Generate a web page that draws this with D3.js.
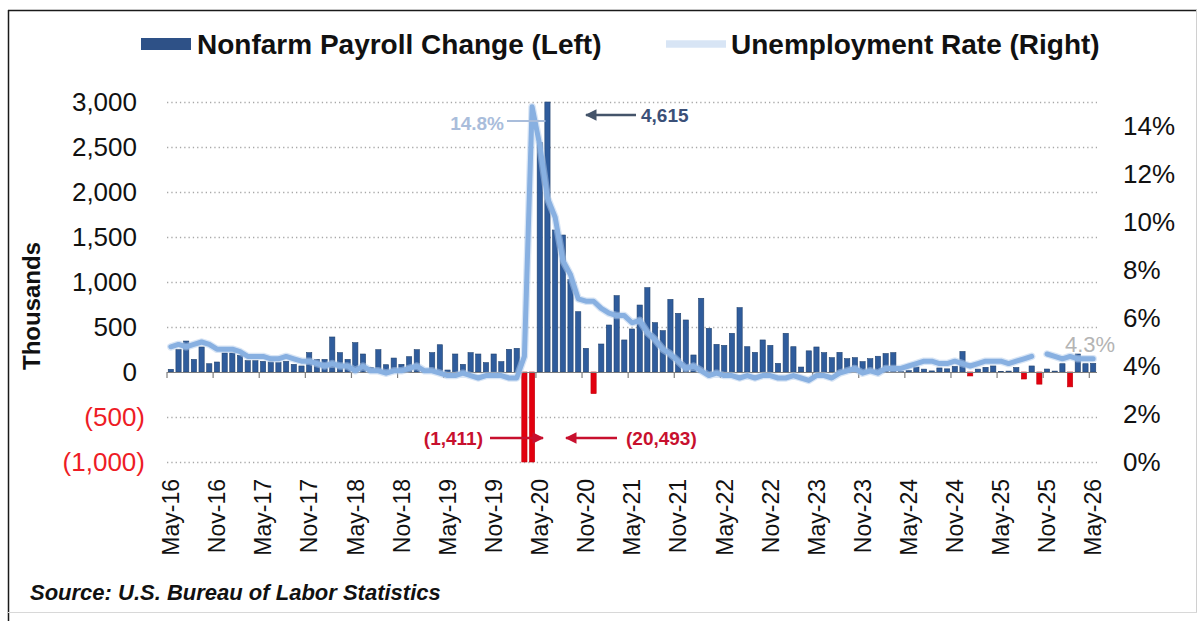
<!DOCTYPE html>
<html>
<head>
<meta charset="utf-8">
<script src="https://cdn.jsdelivr.net/npm/d3@7"></script>
<style>
  body { margin: 0; background: #fff; }
  svg { display: block; }
  text { font-family: "Liberation Sans", Arial, Helvetica, sans-serif; }
</style>
</head>
<body>
<svg id="chart" width="1201" height="621"></svg>
<script>
// Monthly nonfarm payroll change (thousands), May-16 .. May-26
const payrolls = [
  30, 248, 344, 140, 278, 92, 111, 211,
  211, 185, 126, 126, 118, 111, 104, 118, 85, 67, 215, 140,
  140, 389, 215, 140, 326, 200, 52, 248, 81, 155, 85, 170,
  248, 10, 215, 303, 22, 200, 85, 215, 200, 104, 200, 115,
  252, 263, -1411, -20493, 2550, 4615, 1578, 1522, 1030, 670, 263, -240,
  311, 522, 848, 356, 478, 744, 937, 548, 459, 807, 652, 578,
  189, 819, 485, 307, 296, 430, 715, 281, 218, 356, 296, 96,
  430, 281, 55, 235, 278, 215, 159, 218, 148, 159, 115, 148,
  175, 205, 215, 10, 15, 55, 32, 12, 45, 35, 62, 228,
  -44, 32, 52, 67, 5, 10, 50, -78, 67, -135, 33, 10,
  92, -165, 200, 92, 96
];

// Unemployment rate (%), same months; October 2025 not published
const unemployment = [
  4.8, 4.9, 4.8, 4.9, 5.0, 4.9, 4.7, 4.7,
  4.7, 4.6, 4.4, 4.4, 4.4, 4.3, 4.3, 4.4, 4.3, 4.2, 4.2, 4.1,
  4.0, 4.1, 4.0, 4.0, 3.8, 4.0, 3.8, 3.8, 3.7, 3.8, 3.8, 3.9,
  4.0, 3.8, 3.8, 3.7, 3.6, 3.6, 3.7, 3.6, 3.5, 3.6, 3.6, 3.6,
  3.5, 3.5, 4.4, 14.8, 13.2, 11.0, 10.2, 8.4, 7.8, 6.8, 6.7, 6.7,
  6.4, 6.2, 6.1, 6.1, 5.8, 5.9, 5.4, 5.1, 4.7, 4.5, 4.2, 3.9,
  4.0, 3.8, 3.6, 3.7, 3.6, 3.6, 3.5, 3.6, 3.5, 3.6, 3.6, 3.5,
  3.5, 3.6, 3.5, 3.4, 3.6, 3.6, 3.5, 3.7, 3.8, 3.9, 3.7, 3.8,
  3.7, 3.9, 3.9, 3.9, 4.0, 4.1, 4.2, 4.2, 4.1, 4.1, 4.2, 4.1,
  4.0, 4.1, 4.2, 4.2, 4.2, 4.1, 4.2, 4.3, 4.4, null, 4.5, 4.4,
  4.3, 4.4, 4.3, 4.3, 4.3
];

const monthNames = ["Jan","Feb","Mar","Apr","May","Jun","Jul","Aug","Sep","Oct","Nov","Dec"];
const categories = payrolls.map((_, i) => {
  const m = 4 + i;
  return monthNames[m % 12] + "-" + (16 + Math.floor(m / 12));
});

const tickLabels = ["May-16","Nov-16","May-17","Nov-17","May-18","Nov-18","May-19",
  "Nov-19","May-20","Nov-20","May-21","Nov-21","May-22","Nov-22","May-23","Nov-23",
  "May-24","Nov-24","May-25","Nov-25","May-26"];
const leftTicks = [-1000, -500, 0, 500, 1000, 1500, 2000, 2500, 3000];
const rightTicks = [0, 2, 4, 6, 8, 10, 12, 14];

const svg = d3.select("#chart");
const plotL = 167, plotR = 1097, plotT = 102, plotB = 462;

const x = d3.scaleBand().domain(categories).range([plotL, plotR])
  .paddingInner(0.32).paddingOuter(0.16);
const yL = d3.scaleLinear().domain([-1000, 3000]).range([plotB, plotT]).clamp(true);
const yR = d3.scaleLinear().domain([0, 15]).range([plotB, plotT]);
const cx = c => x(c) + x.bandwidth() / 2;

// frame
svg.append("rect").attr("x", 0).attr("y", 0).attr("width", 1201).attr("height", 621).attr("fill", "#fff");
svg.append("line").attr("x1", 8.5).attr("x2", 8.5).attr("y1", 10).attr("y2", 621).attr("stroke", "#1a1a1a").attr("stroke-width", 1.5);
svg.append("line").attr("x1", 8).attr("x2", 1197).attr("y1", 10.5).attr("y2", 10.5).attr("stroke", "#1a1a1a").attr("stroke-width", 1.5);
svg.append("line").attr("x1", 1196.5).attr("x2", 1196.5).attr("y1", 10).attr("y2", 612).attr("stroke", "#d0d0d0");
svg.append("line").attr("x1", 8).attr("x2", 1197).attr("y1", 612.5).attr("y2", 612.5).attr("stroke", "#d8d8d8");

// soft edge for the rate line
const defs = svg.append("defs");
defs.append("filter").attr("id", "soft").attr("x", "-5%").attr("y", "-5%").attr("width", "110%").attr("height", "110%")
  .append("feGaussianBlur").attr("stdDeviation", 0.5);

// dotted gridlines
svg.append("g").selectAll("line").data(leftTicks.filter(t => t !== 0)).join("line")
  .attr("x1", plotL).attr("x2", plotR)
  .attr("y1", d => yL(d) + 0.5).attr("y2", d => yL(d) + 0.5)
  .attr("stroke", "#a8a8a8").attr("stroke-width", 1.3).attr("stroke-dasharray", "1.3,3");

// bars
svg.append("g").selectAll("rect").data(payrolls).join("rect")
  .attr("x", (d, i) => x(categories[i]))
  .attr("width", x.bandwidth())
  .attr("y", d => Math.min(yL(d), yL(0)))
  .attr("height", d => Math.abs(yL(d) - yL(0)))
  .attr("fill", d => d < 0 ? "#e2000f" : "#2f5c9c")
  .attr("stroke", d => d < 0 ? "#c0000c" : "#22436f")
  .attr("stroke-width", 0.6);

// zero axis with tick marks every six months
const y0 = yL(0);
svg.append("line").attr("x1", plotL).attr("x2", plotR).attr("y1", y0 + 0.5).attr("y2", y0 + 0.5)
  .attr("stroke", "#7f7f7f").attr("stroke-width", 1.2);
const tickIdx = d3.range(0, categories.length, 6);
svg.append("g").selectAll("line").data(tickIdx).join("line")
  .attr("x1", i => plotL + i * x.step()).attr("x2", i => plotL + i * x.step())
  .attr("y1", y0).attr("y2", y0 + 6)
  .attr("stroke", "#7f7f7f").attr("stroke-width", 1.2);

// unemployment rate line
const line = d3.line().defined(d => d != null)
  .x((d, i) => cx(categories[i])).y(d => yR(d)).curve(d3.curveLinear);
svg.append("path").datum(unemployment).attr("d", line)
  .attr("fill", "none").attr("stroke", "#b3ccec").attr("stroke-width", 7.5)
  .attr("stroke-linejoin", "round").attr("stroke-linecap", "round").attr("opacity", 0.5)
  .attr("filter", "url(#soft)");
svg.append("path").datum(unemployment).attr("d", line)
  .attr("fill", "none").attr("stroke", "#88b0e1").attr("stroke-width", 5)
  .attr("stroke-linejoin", "round").attr("stroke-linecap", "round")
  .attr("filter", "url(#soft)");

// left axis labels
const fmt = d3.format(",");
svg.append("g").selectAll("text").data(leftTicks).join("text")
  .attr("x", d => d < 0 ? 145 : 137)
  .attr("y", d => yL(d)).attr("dy", "0.36em")
  .attr("text-anchor", "end").attr("font-size", 26)
  .attr("fill", d => d < 0 ? "#ee1c25" : "#111")
  .text(d => d < 0 ? "(" + fmt(-d) + ")" : fmt(d));

// right axis labels
svg.append("g").selectAll("text").data(rightTicks).join("text")
  .attr("x", 1123).attr("y", d => yR(d)).attr("dy", "0.36em")
  .attr("font-size", 26).attr("fill", "#111")
  .text(d => d + "%");

// axis title
svg.append("text").attr("transform", "translate(40,306) rotate(-90)")
  .attr("text-anchor", "middle").attr("font-size", 24).attr("font-weight", "bold")
  .attr("fill", "#111").text("Thousands");

// category labels
svg.append("g").selectAll("text").data(tickLabels).join("text")
  .attr("transform", (d, k) => `translate(${cx(categories[k * 6])},479) rotate(-90)`)
  .attr("dy", "0.36em").attr("text-anchor", "end")
  .attr("font-size", 23).attr("fill", "#111").text(d => d);

// legend
const lg = svg.append("g");
lg.append("rect").attr("x", 141).attr("y", 38).attr("width", 50).attr("height", 12).attr("fill", "#2e5187");
lg.append("text").attr("x", 197).attr("y", 54).attr("font-size", 28).attr("font-weight", "bold")
  .attr("fill", "#111").text("Nonfarm Payroll Change (Left)");
lg.append("line").attr("x1", 666).attr("x2", 726).attr("y1", 44).attr("y2", 44)
  .attr("stroke", "#b3ccec").attr("stroke-width", 7.5).attr("opacity", 0.5);
lg.append("line").attr("x1", 666).attr("x2", 726).attr("y1", 44).attr("y2", 44)
  .attr("stroke", "#88b0e1").attr("stroke-width", 5).attr("filter", "url(#soft)");
lg.append("text").attr("x", 731).attr("y", 54).attr("font-size", 28).attr("font-weight", "bold")
  .attr("fill", "#111").text("Unemployment Rate (Right)");

// arrowhead markers
function marker(id, color) {
  defs.append("marker").attr("id", id).attr("viewBox", "0 0 10 10")
    .attr("refX", 9).attr("refY", 5).attr("markerWidth", 4.5).attr("markerHeight", 4.5)
    .attr("orient", "auto-start-reverse").attr("markerUnits", "strokeWidth")
    .append("path").attr("d", "M0,0 L10,5 L0,10 Z").attr("fill", color);
}
marker("arrBlue", "#44546a");
marker("arrRed", "#c8102e");

// annotations
const iPeakRate = unemployment.indexOf(d3.max(unemployment));
const iPeakJobs = payrolls.indexOf(d3.max(payrolls));
const iTrough = payrolls.indexOf(d3.min(payrolls));
const iMar = iTrough - 1;

svg.append("line").attr("x1", 507).attr("x2", cx(categories[iPeakJobs]) - 2)
  .attr("y1", 121).attr("y2", 121).attr("stroke", "#a9bddb").attr("stroke-width", 2);
svg.append("text").attr("x", 504).attr("y", 123).attr("dy", "0.35em").attr("text-anchor", "end")
  .attr("font-size", 19).attr("font-weight", "bold").attr("fill", "#a9bddb")
  .text(unemployment[iPeakRate].toFixed(1) + "%");

svg.append("line").attr("x1", 636).attr("x2", 586).attr("y1", 115).attr("y2", 115)
  .attr("stroke", "#44546a").attr("stroke-width", 2.6).attr("marker-end", "url(#arrBlue)");
svg.append("text").attr("x", 641).attr("y", 115).attr("dy", "0.36em")
  .attr("font-size", 19).attr("font-weight", "bold").attr("fill", "#3b5078")
  .text(fmt(payrolls[iPeakJobs]));

svg.append("text").attr("x", 483).attr("y", 438).attr("dy", "0.36em").attr("text-anchor", "end")
  .attr("font-size", 19).attr("font-weight", "bold").attr("fill", "#c8102e")
  .text("(" + fmt(-payrolls[iMar]) + ")");
svg.append("line").attr("x1", 490).attr("x2", 543).attr("y1", 438).attr("y2", 438)
  .attr("stroke", "#c8102e").attr("stroke-width", 2.6).attr("marker-end", "url(#arrRed)");

svg.append("line").attr("x1", 617).attr("x2", 566).attr("y1", 438).attr("y2", 438)
  .attr("stroke", "#c8102e").attr("stroke-width", 2.6).attr("marker-end", "url(#arrRed)");
svg.append("text").attr("x", 626).attr("y", 438).attr("dy", "0.36em")
  .attr("font-size", 19).attr("font-weight", "bold").attr("fill", "#c8102e")
  .text("(" + fmt(-payrolls[iTrough]) + ")");

// latest rate
const lastRate = unemployment[unemployment.length - 1];
svg.append("text").attr("x", 1065).attr("y", 344).attr("dy", "0.36em")
  .attr("font-size", 22).attr("fill", "#b4b4b4")
  .text(lastRate.toFixed(1) + "%");

// source note
svg.append("text").attr("x", 30).attr("y", 600)
  .attr("font-size", 22).attr("font-weight", "bold").attr("font-style", "italic")
  .attr("fill", "#111").text("Source: U.S. Bureau of Labor Statistics");
</script>
</body>
</html>
